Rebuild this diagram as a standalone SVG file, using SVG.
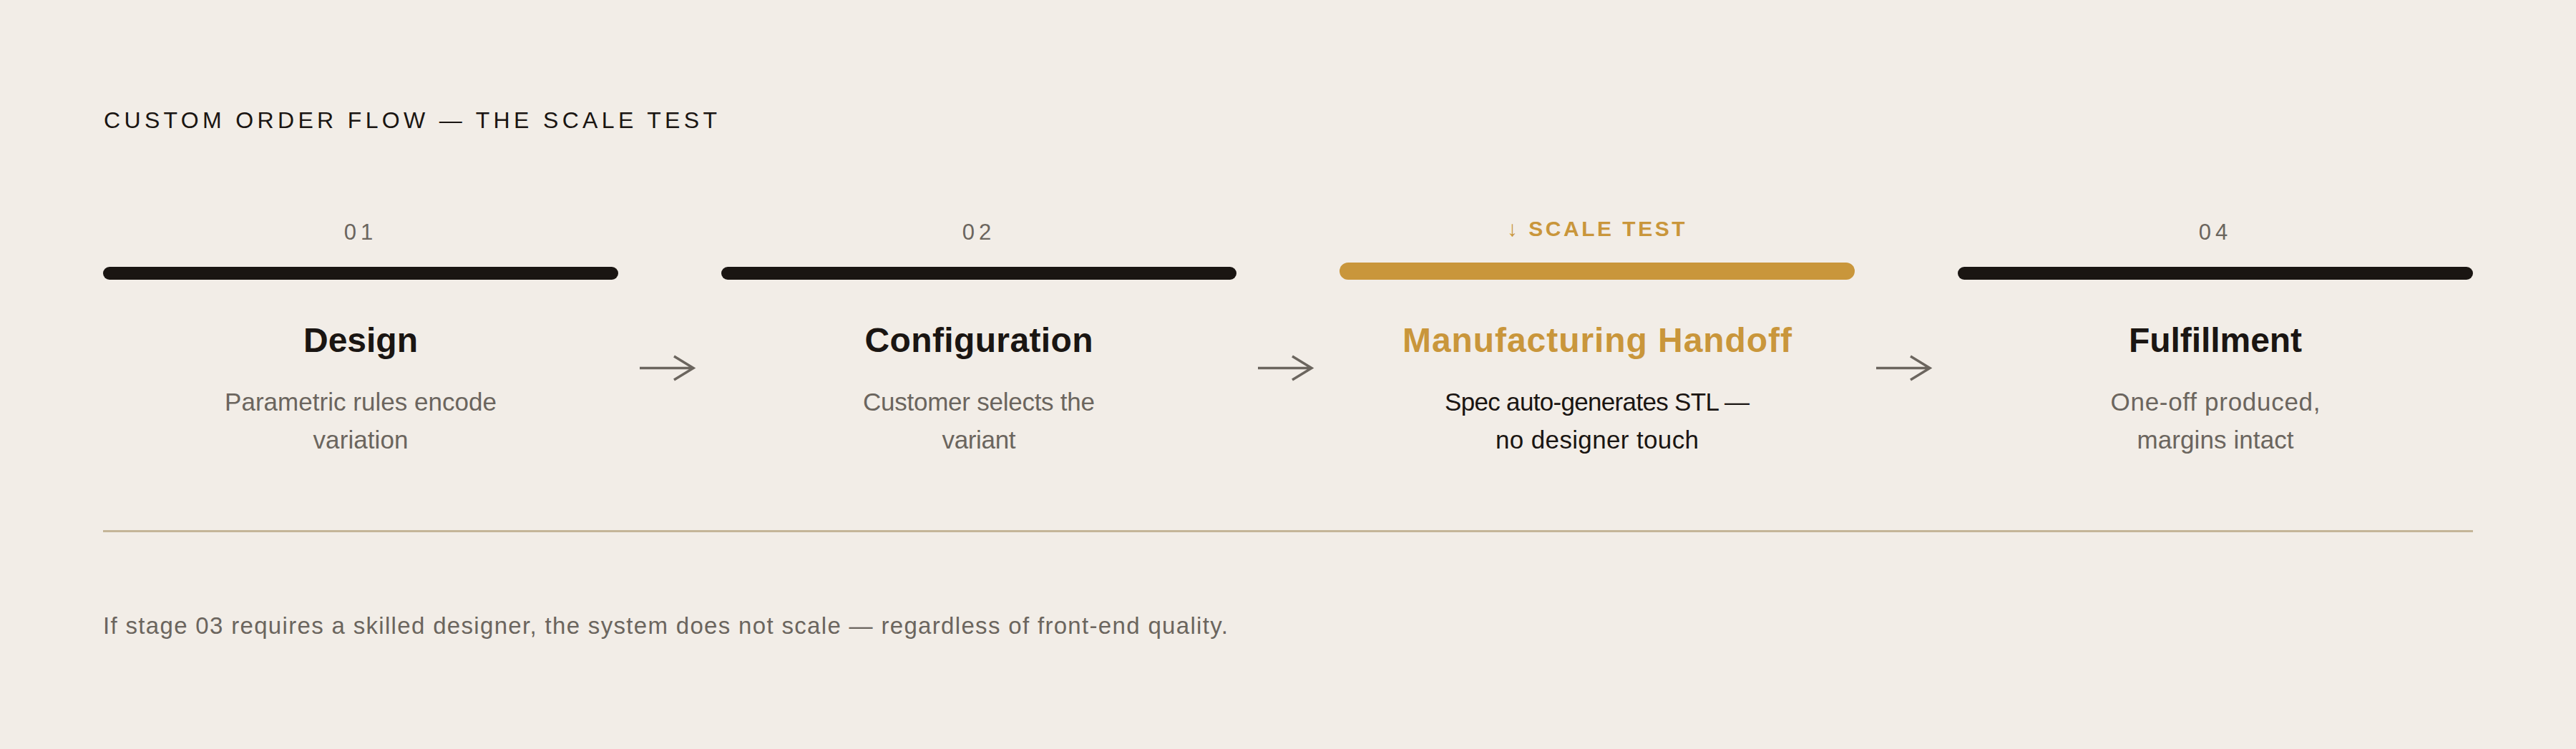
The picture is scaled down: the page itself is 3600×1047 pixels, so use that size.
<svg xmlns="http://www.w3.org/2000/svg" width="3600" height="1047" viewBox="0 0 3600 1047">
<style>
  text { font-family: "Liberation Sans", Arial, sans-serif; }
  .title { font-size: 32px; fill: #1a1512; letter-spacing: 5px; }
  .num { font-size: 31px; fill: #6b655e; letter-spacing: 6px; text-anchor: middle; }
  .tag { font-size: 30px; font-weight: bold; fill: #c9963b; letter-spacing: 3.5px; text-anchor: middle; }
  .head { font-size: 48px; font-weight: bold; fill: #1a1512; text-anchor: middle; }
  .head.gold { fill: #c9963b; }
  .desc { font-size: 35px; fill: #6b655e; text-anchor: middle; }
  .desc.dark { fill: #1a1512; }
  .bar { fill: #1a1512; }
  .bar.gold { fill: #c9963b; }
  .arrow { fill: none; stroke: #6b655e; stroke-width: 3.5; stroke-linecap: butt; stroke-linejoin: miter; }
  .foot { font-size: 33px; fill: #6b655e; letter-spacing: 1.2px; }
</style>
<rect x="0" y="0" width="3600" height="1047" fill="#f2ede7"/>
<g id="title">
  <text class="title" x="145" y="179" textLength="862">CUSTOM ORDER FLOW — THE SCALE TEST</text>
</g>
<g id="stage-01">
  <text class="num" x="504" y="335">01</text>
  <rect class="bar" x="144" y="373" width="720" height="18" rx="9"/>
  <text class="head" x="504" y="492" textLength="160">Design</text>
  <text class="desc" x="504" y="574" textLength="380">Parametric rules encode</text>
  <text class="desc" x="504" y="627" textLength="133">variation</text>
</g>
<g id="stage-02">
  <text class="num" x="1368" y="335">02</text>
  <rect class="bar" x="1008" y="373" width="720" height="18" rx="9"/>
  <text class="head" x="1368" y="492" textLength="319">Configuration</text>
  <text class="desc" x="1368" y="574" textLength="324">Customer selects the</text>
  <text class="desc" x="1368" y="627" textLength="103">variant</text>
</g>
<g id="stage-03">
  <text class="tag" x="2232" y="330">↓ SCALE TEST</text>
  <rect class="bar gold" x="1872" y="367" width="720" height="24" rx="12"/>
  <text class="head gold" x="2232" y="492" textLength="544">Manufacturing Handoff</text>
  <text class="desc dark" x="2232" y="574" textLength="426">Spec auto-generates STL —</text>
  <text class="desc dark" x="2232" y="627" textLength="284">no designer touch</text>
</g>
<g id="stage-04">
  <text class="num" x="3096" y="335">04</text>
  <rect class="bar" x="2736" y="373" width="720" height="18" rx="9"/>
  <text class="head" x="3096" y="492" textLength="242">Fulfillment</text>
  <text class="desc" x="3096" y="574" textLength="293">One-off produced,</text>
  <text class="desc" x="3096" y="627" textLength="219">margins intact</text>
</g>
<g id="connectors">
  <path class="arrow" d="M894 514.5 H968 M942 498 L969 514.5 L942 531"/>
  <path class="arrow" d="M1758 514.5 H1832 M1806 498 L1833 514.5 L1806 531"/>
  <path class="arrow" d="M2622 514.5 H2696 M2670 498 L2697 514.5 L2670 531"/>
</g>
<g id="divider">
  <rect x="144" y="741" width="3312" height="3" fill="#c4b598"/>
</g>
<g id="footer">
  <text class="foot" x="144" y="886" textLength="1573">If stage 03 requires a skilled designer, the system does not scale — regardless of front-end quality.</text>
</g>
</svg>
